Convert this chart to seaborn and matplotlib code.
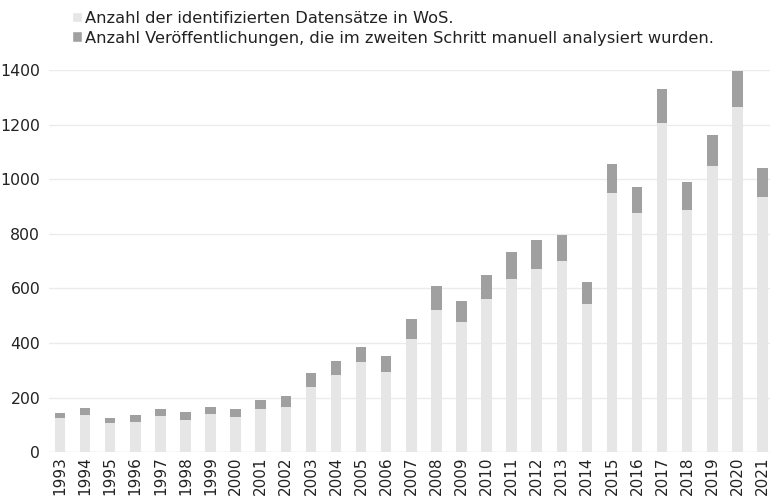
import numpy as np
import pandas as pd
import seaborn as sns
import matplotlib.pyplot as plt
from matplotlib.patches import Patch

# ---------------- Data ----------------
years = [str(y) for y in range(1993, 2022)]
wos = [125, 138, 106, 111, 134, 117, 139, 130, 160, 165, 240, 283, 329, 295,
       416, 520, 477, 560, 633, 672, 700, 542, 948, 875, 1204, 889, 1049, 1265, 935]
manuell = [20, 23, 20, 25, 24, 30, 27, 30, 31, 40, 49, 52, 57, 58,
           74, 90, 77, 91, 101, 105, 97, 80, 106, 95, 126, 99, 111, 130, 107]
labels = ["Anzahl der identifizierten Datensätze in WoS.",
          "Anzahl Veröffentlichungen, die im zweiten Schritt manuell analysiert wurden."]

light_col = "#e6e6e6"
dark_col = "#a0a0a0"

df = pd.DataFrame({"Jahr": years, "wos": wos, "manuell": manuell})
df["total"] = df["wos"] + df["manuell"]

# ---------------- Plot ----------------
sns.set_style("white")
plt.rcParams["font.family"] = ["DejaVu Sans"]

fig = plt.figure(figsize=(7.70, 4.96), dpi=100)
ax = fig.add_axes([0.063, 0.088, 0.937, 0.771])

sns.barplot(data=df, x="Jahr", y="total", color=dark_col, width=0.42,
            saturation=1, linewidth=0, ax=ax)
sns.barplot(data=df, x="Jahr", y="wos", color=light_col, width=0.42,
            saturation=1, linewidth=0, ax=ax)

ax.set_ylim(0, 1400)
ax.set_xlim(-0.46, 28.3)
ax.set_yticks(range(0, 1401, 200))
ax.yaxis.grid(True, color="#ebebeb", linewidth=1)
ax.set_axisbelow(True)
for s in ax.spines.values():
    s.set_visible(False)
ax.set_xlabel("")
ax.set_ylabel("")
ax.tick_params(axis="x", rotation=90, labelsize=11, length=0, pad=3, colors="#222222")
ax.tick_params(axis="y", labelsize=11.3, length=0, pad=6, colors="#222222")
ax.axhline(0, color="#ebebeb", linewidth=1, zorder=0)

handles = [Patch(facecolor=light_col), Patch(facecolor=dark_col)]
fig.legend(handles, labels, loc="upper left", bbox_to_anchor=(0.074, 1.008),
           frameon=False, fontsize=11.7, handlelength=0.65, handleheight=0.65,
           handletextpad=0.2, labelspacing=0.3, labelcolor="#222222")

plt.savefig("out.png", dpi=100)
plt.close()
